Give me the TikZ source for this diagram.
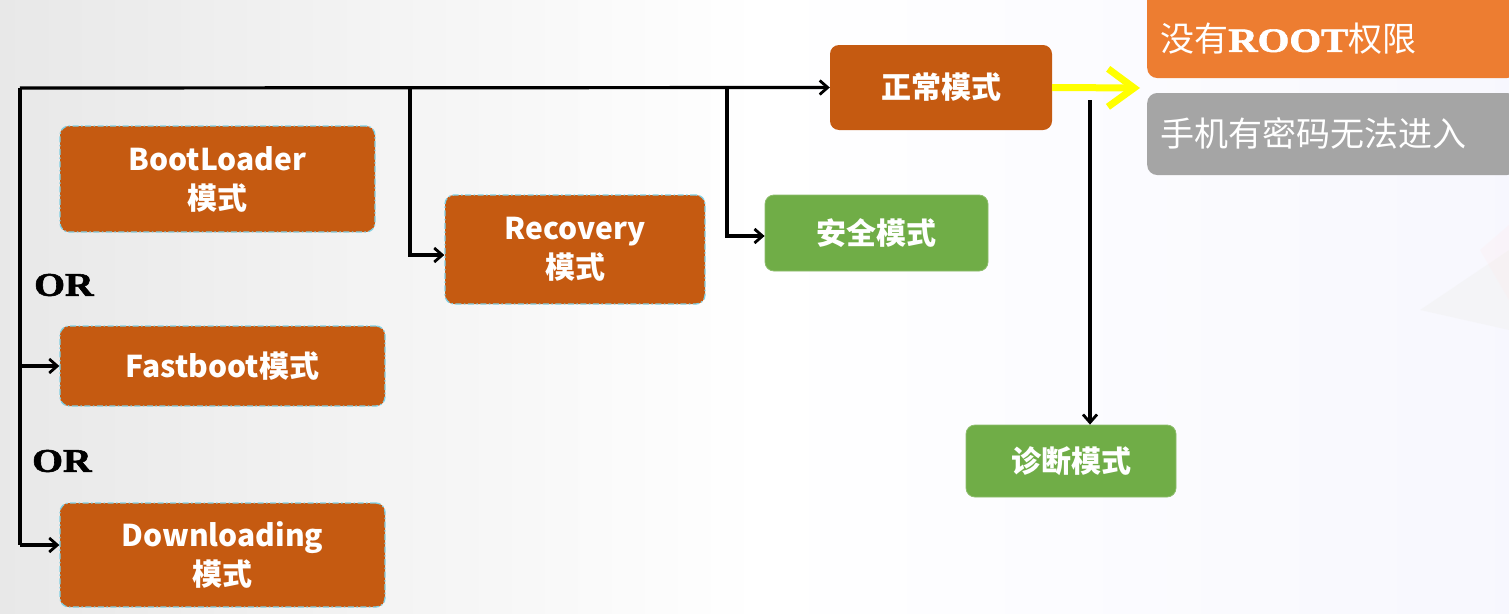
\documentclass[tikz,border=0pt]{standalone}
\usepackage{fontspec}
\setmainfont{Noto Sans CJK SC}
\newfontfamily\orfont[BoldFeatures={FakeBold=1.6}]{Liberation Serif}
\usetikzlibrary{arrows.meta,positioning}
\definecolor{rust}{HTML}{C55A11}
\definecolor{leaf}{HTML}{70AD47}
\definecolor{tang}{HTML}{ED7D31}
\definecolor{ash}{HTML}{A5A5A5}
\definecolor{cyanedge}{HTML}{7FD0E4}
\definecolor{yel}{HTML}{FFFF00}
\tikzset{
  box/.style={rounded corners=9pt, text=white, align=center, font=\fontsize{30}{39}\selectfont\bfseries, inner sep=0pt},
  rustbox/.style={box, fill=rust, draw=cyanedge, line width=1.3pt, dash pattern=on 6pt off 2.5pt on 1.5pt off 2.5pt},
  greenbox/.style={box, fill=leaf, draw=leaf!80!white, line width=0.8pt},
  sidebox/.style={rounded corners=10pt, anchor=west, inner sep=0pt},
  sidetext/.style={anchor=west, text=white, inner sep=0pt, font=\fontsize{34}{38}\selectfont},
  conn/.style={line width=3.2pt, draw=black},
  arr/.style={conn, -{Straight Barb[length=8pt,width=14pt,line width=2.8pt]}},
  yarrow/.style={draw=yel, line width=7pt, -{Straight Barb[length=26pt,width=38pt,line width=7pt]}},
  orlabel/.style={font=\orfont\fontsize{33}{36}\selectfont\bfseries, anchor=west, inner sep=0pt}
}
\begin{document}
\begin{tikzpicture}[x=1pt,y=-1pt]
\useasboundingbox (0,0) rectangle (1509,613);
\clip (0,0) rectangle (1509,613);
% background
\shade[left color=black!9, right color=white] (0,0) rectangle (760,613);
\shade[left color=white, right color=black!12!blue!3] (760,0) rectangle (1509,613);
\fill[black!5, opacity=0.5] (1420,310) -- (1509,250) -- (1509,330) -- cycle;
\fill[red!8, opacity=0.25] (1480,250) -- (1509,225) -- (1509,300) -- cycle;

% nodes
\node[rustbox, minimum width=315pt, minimum height=106pt] (boot) at (217.5,179) {BootLoader\\模式};
\node[rustbox, minimum width=325pt, minimum height=80pt] (fast) at (222.5,366) {Fastboot模式};
\node[rustbox, minimum width=325pt, minimum height=104pt] (down) at (222.5,555) {Downloading\\模式};
\node[rustbox, minimum width=260pt, minimum height=109pt] (rec) at (575,249.5) {Recovery\\模式};
\node[greenbox, minimum width=223pt, minimum height=76pt] (safe) at (876.5,233) {安全模式};
\node[box, fill=rust, minimum width=222pt, minimum height=85pt] (normal) at (941,87.5) {正常模式};
\node[greenbox, minimum width=210pt, minimum height=72pt] (diag) at (1071,461) {诊断模式};
\node[sidebox, fill=tang, minimum width=370pt, minimum height=100pt] (root) at (1147,28) {};
\node[sidebox, fill=ash, minimum width=370pt, minimum height=82pt] (pwd) at (1147,134) {};
\node[sidetext] (roottxt) at (1160,39) {没有{\orfont\bfseries\scalebox{1.2}[1]{ROOT}}权限};
\node[sidetext] (pwdtxt) at (1160,133) {手机有密码无法进入};
\node[orlabel] (or1) at (34,285) {\scalebox{1.2}[1]{OR}};
\node[orlabel] (or2) at (32,461) {\scalebox{1.2}[1]{OR}};

% connectors
\coordinate (start) at (20,88);
\coordinate (bottom) at (20,545);
\coordinate (recsplit) at (410,88);
\coordinate (safesplit) at (727,88);
\coordinate (diagstart) at (1090,100);
\draw[arr] (start) -- (normal.west);
\draw[conn] (start) -- (bottom);
\draw[arr] (20,366) -- (fast.west);
\draw[arr] (bottom) -- (down.west |- bottom);
\draw[arr] (recsplit) |- (rec.west |- 0,255);
\draw[arr] (safesplit) |- (safe.west |- 0,236);
\draw[arr] (diagstart) -- (diag.north -| diagstart);
\draw[yarrow] (normal.east) -- (1140,88);
\end{tikzpicture}
\end{document}
